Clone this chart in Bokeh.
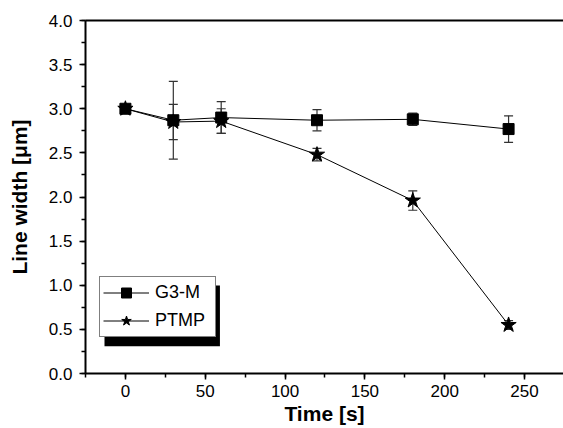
from bokeh.plotting import figure
from bokeh.models import (Range1d, LinearAxis, Whisker, ColumnDataSource, Legend, LegendItem,
                          BoxAnnotation, SingleIntervalTicker, FixedTicker, TeeHead, PrintfTickFormatter)
from bokeh.embed import file_html
from bokeh.resources import INLINE

# data
time_s = [0, 30, 60, 120, 180, 240]
g3m_width = [3.00, 2.87, 2.90, 2.87, 2.88, 2.77]
g3m_err = [0.03, 0.44, 0.18, 0.12, 0.07, 0.15]
ptmp_width = [3.00, 2.85, 2.86, 2.48, 1.96, 0.55]
ptmp_err = [0.03, 0.20, 0.14, 0.07, 0.11, 0.05]
series_names = ["G3-M", "PTMP"]

FONT = "Liberation Sans"

p = figure(width=563, height=428, output_backend="svg", toolbar_location=None,
           x_range=Range1d(-25, 274.4), y_range=Range1d(0, 4),
           min_border_left=85, min_border_top=20, min_border_right=0, min_border_bottom=55,
           background_fill_color="white", border_fill_color="white")
p.outline_line_color = None
p.grid.visible = False

for ax in (p.xaxis[0], p.yaxis[0]):
    ax.axis_line_width = 2
    ax.axis_line_color = "black"
    ax.major_tick_line_width = 1.5
    ax.minor_tick_line_width = 1.5
    ax.major_tick_out = 6
    ax.major_tick_in = 0
    ax.minor_tick_out = 4
    ax.minor_tick_in = 0
    ax.major_label_text_font = FONT
    ax.major_label_text_font_size = "17px"
    ax.major_label_text_color = "black"
    ax.axis_label_text_font = FONT
    ax.axis_label_text_font_size = "21px"
    ax.axis_label_text_font_style = "bold"
    ax.axis_label_text_color = "black"

p.xaxis[0].ticker = SingleIntervalTicker(interval=50, num_minor_ticks=2)
p.yaxis[0].ticker = SingleIntervalTicker(interval=0.5, num_minor_ticks=2)
p.yaxis[0].formatter = PrintfTickFormatter(format="%.1f")
p.xaxis[0].axis_label = "Time [s]"
p.yaxis[0].axis_label = "Line width [μm]"
p.xaxis[0].major_label_standoff = 5
p.xaxis[0].axis_label_standoff = 2
p.yaxis[0].major_label_standoff = 7
p.yaxis[0].axis_label_standoff = 15

top_axis = LinearAxis(ticker=FixedTicker(ticks=[]), major_tick_line_color=None,
                      minor_tick_line_color=None, axis_line_width=2)
p.add_layout(top_axis, "above")

src_g = ColumnDataSource(dict(x=time_s, y=g3m_width,
                              lo=[v - e for v, e in zip(g3m_width, g3m_err)],
                              hi=[v + e for v, e in zip(g3m_width, g3m_err)]))
src_p = ColumnDataSource(dict(x=time_s, y=ptmp_width,
                              lo=[v - e for v, e in zip(ptmp_width, ptmp_err)],
                              hi=[v + e for v, e in zip(ptmp_width, ptmp_err)]))

for src in (src_g, src_p):
    w = Whisker(base="x", lower="lo", upper="hi", source=src, line_color="#333333", line_width=1.2,
                upper_head=TeeHead(size=9, line_color="#333333", line_width=1.2),
                lower_head=TeeHead(size=9, line_color="#333333", line_width=1.2))
    p.add_layout(w)

lp = p.line("x", "y", source=src_p, line_color="black", line_width=1)
mp = p.scatter("x", "y", source=src_p, marker="star", size=16, fill_color="black", line_color="black")
lg = p.line("x", "y", source=src_g, line_color="black", line_width=1)
mg = p.scatter("x", "y", source=src_g, marker="square", size=11, fill_color="black", line_color="black")

# legend shadow
shadow = BoxAnnotation(left=-13.1, right=59.2, top=0.997, bottom=0.309,
                       fill_color="black", fill_alpha=1, line_color=None, level="overlay")
p.add_layout(shadow)

legend = Legend(items=[LegendItem(label=series_names[0], renderers=[lg, mg]),
                       LegendItem(label=series_names[1], renderers=[lp, mp])],
                location=(14, 36), orientation="vertical",
                label_text_font=FONT, label_text_font_size="18px", label_text_color="black",
                glyph_width=46, glyph_height=25, label_standoff=6, label_width=57,
                padding=3, spacing=3,
                margin=0, border_line_color="black", border_line_width=1,
                background_fill_color="white", background_fill_alpha=1, level="overlay")
p.add_layout(legend, "center")

open("out.html", "w").write(file_html(p, INLINE))
